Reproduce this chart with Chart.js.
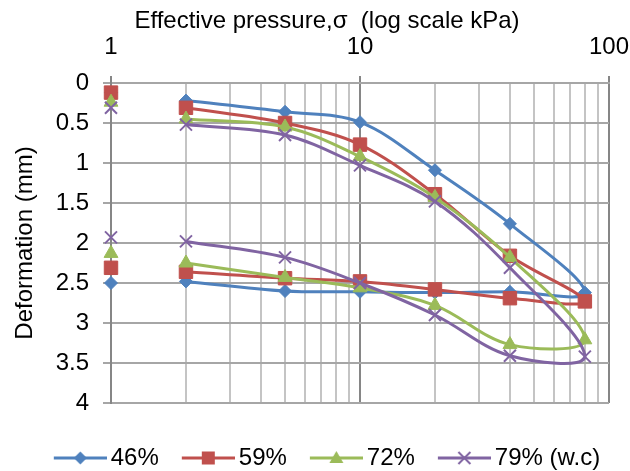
<!DOCTYPE html>
<html><head><meta charset="utf-8">
<script src="https://cdn.jsdelivr.net/npm/chart.js@4.4.0/dist/chart.umd.min.js"></script>
<style>html,body{margin:0;padding:0;background:#fff}</style>
</head><body>
<canvas id="c" width="630" height="471"></canvas>
<script>
// ---- data ----
const pressures = [1, 2, 5, 10, 20, 40, 80];          // loading stages (kPa)
const unloadPressures = [40, 20, 10, 5, 2, 1];        // unloading stages (kPa)
const seriesNames = ['46%', '59%', '72%', '79% (w.c)'];
const load46 = [0.12, 0.22, 0.36, 0.49, 1.09, 1.76, 2.62];
const unload46 = [2.61, 2.62, 2.61, 2.60, 2.48, 2.50];
const load59 = [0.12, 0.31, 0.50, 0.77, 1.39, 2.16, 2.73];
const unload59 = [2.69, 2.58, 2.48, 2.44, 2.36, 2.31];
const load72 = [0.24, 0.45, 0.55, 0.92, 1.43, 2.18, 3.21];
const unload72 = [3.27, 2.78, 2.56, 2.43, 2.25, 2.13];
const load79 = [0.31, 0.52, 0.65, 1.03, 1.48, 2.31, 3.42];
const unload79 = [3.41, 2.90, 2.50, 2.18, 1.98, 1.93];
const xGridValues = [1,2,3,4,5,6,7,8,9,10,20,30,40,50,60,70,80,90,100];
const xTickLabels = [1, 10, 100];
const yTickStep = 0.5;

const colors = ['#4F81BD', '#C0504D', '#9BBB59', '#8064A2'];
const styles = ['rectRot', 'rect', 'triangle', 'crossRot'];
const radii = [6.5, 9.5, 8, 8.5];

function buildPoints(load, unload) {
  const pts = [{x: pressures[0], y: load[0]}, {x: pressures[0], y: null}];
  for (let i = 1; i < pressures.length; i++) pts.push({x: pressures[i], y: load[i]});
  const n = unloadPressures.length;
  for (let j = 0; j < n - 1; j++) pts.push({x: unloadPressures[j], y: unload[j]});
  pts.push({x: unloadPressures[n - 1], y: null});
  pts.push({x: unloadPressures[n - 1], y: unload[n - 1]});
  return pts;
}

function legendIcon(color, style) {
  const c = document.createElement('canvas');
  c.width = 61; c.height = 20;
  const g = c.getContext('2d');
  g.strokeStyle = color; g.fillStyle = color; g.lineWidth = 3;
  g.beginPath(); g.moveTo(8, 10); g.lineTo(61, 10); g.stroke();
  const cx = 34.5, cy = 10;
  g.beginPath();
  if (style === 'rectRot') {
    g.moveTo(cx, cy - 6.5); g.lineTo(cx + 6.5, cy); g.lineTo(cx, cy + 6.5); g.lineTo(cx - 6.5, cy); g.closePath(); g.fill();
  } else if (style === 'rect') {
    g.fillRect(cx - 6.5, cy - 6.5, 13, 13);
  } else if (style === 'triangle') {
    g.moveTo(cx, cy - 7); g.lineTo(cx + 7, cy + 5); g.lineTo(cx - 7, cy + 5); g.closePath(); g.fill();
  } else {
    g.lineWidth = 2;
    g.moveTo(cx - 6, cy - 6); g.lineTo(cx + 6, cy + 6); g.moveTo(cx + 6, cy - 6); g.lineTo(cx - 6, cy + 6); g.stroke();
  }
  return c;
}

const loads = [load46, load59, load72, load79];
const unloads = [unload46, unload59, unload72, unload79];
const icons = colors.map((c, i) => legendIcon(c, styles[i]));

const datasets = seriesNames.map((name, i) => ({
  label: name,
  data: buildPoints(loads[i], unloads[i]),
  borderColor: colors[i],
  backgroundColor: colors[i],
  borderWidth: 3,
  tension: 0.35,
  spanGaps: false,
  clip: false,
  pointStyle: styles[i],
  pointRadius: radii[i],
  pointHoverRadius: radii[i],
  pointBorderWidth: styles[i] === 'crossRot' ? 2 : 1,
  pointBackgroundColor: colors[i],
  pointBorderColor: colors[i],
  order: 4 - i
}));

Chart.defaults.font.family = '"Liberation Sans", Arial, sans-serif';
Chart.defaults.font.size = 24;
Chart.defaults.color = '#000';

const isMajor = v => xTickLabels.includes(v);

new Chart(document.getElementById('c'), {
  type: 'line',
  data: { datasets },
  options: {
    responsive: false,
    animation: false,
    events: [],
    layout: { padding: { left: 24, right: 0, top: 0, bottom: -9 } },
    plugins: {
      title: {
        display: true,
        text: 'Effective pressure,σ  (log scale kPa)',
        font: { size: 24, weight: 'normal' },
        color: '#000',
        padding: { top: 7, bottom: 0 }
      },
      legend: {
        position: 'bottom',
        title: { display: true, text: ' ', font: { size: 10 }, padding: { top: 4, bottom: 4 } },
        labels: {
          usePointStyle: true,
          pointStyleWidth: 45,
          padding: 23,
          font: { size: 24 },
          color: '#000',
          generateLabels: chart => chart.data.datasets.map((ds, i) => ({
            text: ds.label, pointStyle: icons[i], datasetIndex: i,
            fillStyle: ds.borderColor, strokeStyle: ds.borderColor, lineWidth: 0,
            hidden: false, fontColor: '#000'
          }))
        }
      },
      tooltip: { enabled: false }
    },
    scales: {
      x: {
        type: 'logarithmic',
        position: 'top',
        min: 1, max: 100,
        afterBuildTicks: s => { s.ticks = xGridValues.map(v => ({ value: v })); },
        afterFit: s => { s.height = 47.2; s.paddingLeft = 0; s.paddingRight = 0; },
        ticks: {
          autoSkip: false, maxRotation: 0, minRotation: 0, padding: 14,
          color: '#000', font: { size: 24 },
          callback: v => isMajor(v) ? String(v) : ''
        },
        grid: {
          lineWidth: 2,
          color: ctx => isMajor(ctx.tick.value) ? '#868686' : '#c4c4c4',
          tickLength: 7,
          tickColor: ctx => isMajor(ctx.tick.value) ? '#868686' : 'rgba(0,0,0,0)'
        },
        border: { display: true, color: '#a6a6a6', width: 2 }
      },
      y: {
        type: 'linear',
        position: 'left',
        reverse: true,
        min: 0, max: 4,
        afterFit: s => { s.width = 87; s.paddingTop = 0; s.paddingBottom = 0; },
        ticks: { stepSize: yTickStep, padding: 14, color: '#000', font: { size: 24 },
                 callback: v => String(Math.round(v * 10) / 10) },
        grid: { color: '#a6a6a6', lineWidth: 2, tickLength: 8, tickColor: '#a6a6a6' },
        border: { display: true, color: '#868686', width: 2 },
        title: {
          display: true, text: 'Deformation (mm)', color: '#000',
          font: { size: 24 }, padding: { top: -13.4, bottom: 0 }
        }
      },
      yR: {
        type: 'linear', position: 'right', display: true, min: 0, max: 1,
        afterFit: s => { s.width = 21; },
        ticks: { display: false },
        grid: { display: false, drawTicks: false },
        border: { display: false }
      }
    }
  }
});
</script>
</body></html>
